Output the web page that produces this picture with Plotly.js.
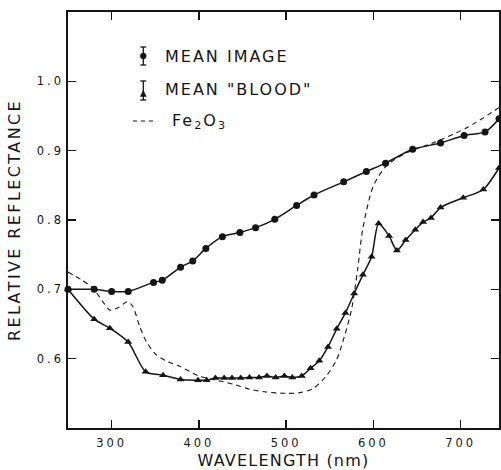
<!DOCTYPE html>
<html>
<head>
<meta charset="utf-8">
<script src="https://cdn.plot.ly/plotly-3.0.1.min.js"></script>
<style>
  html, body { margin: 0; padding: 0; background: #fff; }
  #chart { width: 501px; height: 470px; }
  .xtick text { letter-spacing: 3px; }
  .ytick text { letter-spacing: 3px; }
  text.xtitle { letter-spacing: 1.2px; }
  text.ytitle { letter-spacing: 2.4px; }
  text.annotation-text { letter-spacing: 2px; }
</style>
</head>
<body>
<div id="chart"></div>
<script>
// ---- data ----
const imageWl = [250, 280, 300, 319, 348, 358, 379, 393, 408, 427, 447, 465, 487, 512, 532, 566, 592, 614, 645, 677, 704, 728, 744];
const imageR  = [0.700, 0.700, 0.697, 0.697, 0.710, 0.713, 0.732, 0.741, 0.759, 0.776, 0.782, 0.789, 0.801, 0.821, 0.836, 0.855, 0.870, 0.882, 0.902, 0.911, 0.922, 0.927, 0.946];

const bloodWl = [250, 280, 298, 319, 339, 359, 379, 399, 409, 419, 429, 438, 448, 458, 469, 478, 488, 498, 507, 518, 528, 538, 548, 558, 568, 578, 588, 598, 606, 618, 627, 637, 648, 657, 666, 677, 703, 726, 744];
const bloodR  = [0.700, 0.657, 0.644, 0.624, 0.581, 0.576, 0.570, 0.569, 0.569, 0.572, 0.572, 0.572, 0.572, 0.573, 0.573, 0.575, 0.573, 0.575, 0.573, 0.575, 0.586, 0.597, 0.617, 0.643, 0.666, 0.694, 0.721, 0.747, 0.795, 0.777, 0.756, 0.771, 0.786, 0.797, 0.803, 0.818, 0.832, 0.844, 0.875];

const feWl = [250, 265, 279, 290, 298, 308, 318, 324, 332, 340, 350, 362, 378, 400, 420, 440, 458, 477, 500, 516, 531, 546, 558, 567, 575, 582, 588, 600, 615, 638, 668, 707, 744];
const feR  = [0.725, 0.714, 0.701, 0.682, 0.670, 0.674, 0.682, 0.676, 0.647, 0.624, 0.607, 0.597, 0.589, 0.575, 0.569, 0.563, 0.556, 0.552, 0.550, 0.551, 0.557, 0.575, 0.599, 0.633, 0.671, 0.729, 0.788, 0.849, 0.878, 0.897, 0.911, 0.933, 0.962];

const xTickVals = [300, 400, 500, 600, 700];
const xTickText = ['300', '400', '500', '600', '700'];
const yTickVals = [0.6, 0.7, 0.8, 0.9, 1.0];
const yTickText = ['0.6', '0.7', '0.8', '0.9', '1.0'];

const legendLabels = ['MEAN IMAGE', 'MEAN "BLOOD"', 'Fe<sub>2</sub>O<sub>3</sub>'];
const xTitle = 'WAVELENGTH (nm)';
const yTitle = 'RELATIVE REFLECTANCE';

// ---- layout geometry ----
const W = 501, H = 470;
const M = {l: 68, r: 2, t: 12, b: 42};
const PW = W - M.l - M.r, PH = H - M.t - M.b;
const px = x => (x - M.l) / PW;          // pixel -> paper x
const py = y => 1 - (y - M.t) / PH;      // pixel -> paper y
const INK = '#151515';
const FONT = 'DejaVu Sans, sans-serif';

const traces = [
  {
    x: feWl, y: feR, type: 'scatter', mode: 'lines',
    line: {color: INK, width: 1.1, dash: '5px,4px', shape: 'spline', smoothing: 0.8},
    hoverinfo: 'skip', showlegend: false
  },
  {
    x: imageWl, y: imageR, type: 'scatter', mode: 'lines+markers',
    line: {color: INK, width: 1.5, shape: 'spline', smoothing: 0.8},
    marker: {symbol: 'circle', size: 7, color: INK},
    cliponaxis: false, showlegend: false
  },
  {
    x: bloodWl, y: bloodR, type: 'scatter', mode: 'lines+markers',
    line: {color: INK, width: 1.5, shape: 'spline', smoothing: 0.7},
    marker: {symbol: 'triangle-up', size: 7, color: INK},
    cliponaxis: false, showlegend: false
  }
];

// legend glyphs (layout decoration, paper coords)
const gx = 143.3;
const shapes = [];
function errBar(y0, y1) {
  shapes.push({type: 'line', xref: 'paper', yref: 'paper', x0: px(gx), x1: px(gx), y0: py(y0), y1: py(y1), line: {color: INK, width: 1.3}});
  shapes.push({type: 'line', xref: 'paper', yref: 'paper', x0: px(gx - 3), x1: px(gx + 3), y0: py(y0), y1: py(y0), line: {color: INK, width: 1.3}});
  shapes.push({type: 'line', xref: 'paper', yref: 'paper', x0: px(gx - 3), x1: px(gx + 3), y0: py(y1), y1: py(y1), line: {color: INK, width: 1.3}});
}
errBar(47, 65);
shapes.push({type: 'circle', xref: 'paper', yref: 'paper', x0: px(gx - 3), x1: px(gx + 3), y0: py(59), y1: py(53), fillcolor: INK, line: {color: INK, width: 0.5}});
errBar(81, 100);
shapes.push({type: 'path', xref: 'paper', yref: 'paper',
  path: `M ${px(gx - 3)} ${py(96.5)} L ${px(gx + 3)} ${py(96.5)} L ${px(gx)} ${py(90.5)} Z`,
  fillcolor: INK, line: {color: INK, width: 0.5}});
shapes.push({type: 'line', xref: 'paper', yref: 'paper', x0: px(133), x1: px(157), y0: py(121), y1: py(121), line: {color: INK, width: 1.1, dash: '4px,4px'}});

const annFont = {family: FONT, size: 16, color: INK};
const annotations = [
  {text: legendLabels[0], x: px(163), y: py(56.5), xref: 'paper', yref: 'paper', xanchor: 'left', yanchor: 'middle', showarrow: false, font: annFont},
  {text: legendLabels[1], x: px(163), y: py(89), xref: 'paper', yref: 'paper', xanchor: 'left', yanchor: 'middle', showarrow: false, font: annFont},
  {text: legendLabels[2], x: px(170), y: py(122), xref: 'paper', yref: 'paper', xanchor: 'left', yanchor: 'middle', showarrow: false, font: annFont}
];

const axisCommon = {
  showline: true, linecolor: INK, linewidth: 1.6, mirror: 'ticks',
  ticks: 'inside', ticklen: 8, tickwidth: 1.3, tickcolor: INK,
  showgrid: false, zeroline: false, fixedrange: true,
  tickfont: {family: FONT, size: 11.5, color: INK}
};

const layout = {
  width: W, height: H,
  margin: M,
  paper_bgcolor: '#fff', plot_bgcolor: '#fff',
  showlegend: false,
  xaxis: Object.assign({}, axisCommon, {
    range: [250, 744], tickmode: 'array', tickvals: xTickVals, ticktext: xTickText,
    ticklabelstandoff: 4,
    title: {text: xTitle, font: {family: FONT, size: 16, color: INK}, standoff: 9}
  }),
  yaxis: Object.assign({}, axisCommon, {
    range: [0.5, 1.1], tickmode: 'array', tickvals: yTickVals, ticktext: yTickText,
    ticklabelstandoff: 0,
    title: {text: yTitle, font: {family: FONT, size: 16, color: INK}, standoff: 12}
  }),
  shapes: shapes,
  annotations: annotations
};

Plotly.newPlot('chart', traces, layout, {displayModeBar: false, staticPlot: true});
</script>
</body>
</html>
